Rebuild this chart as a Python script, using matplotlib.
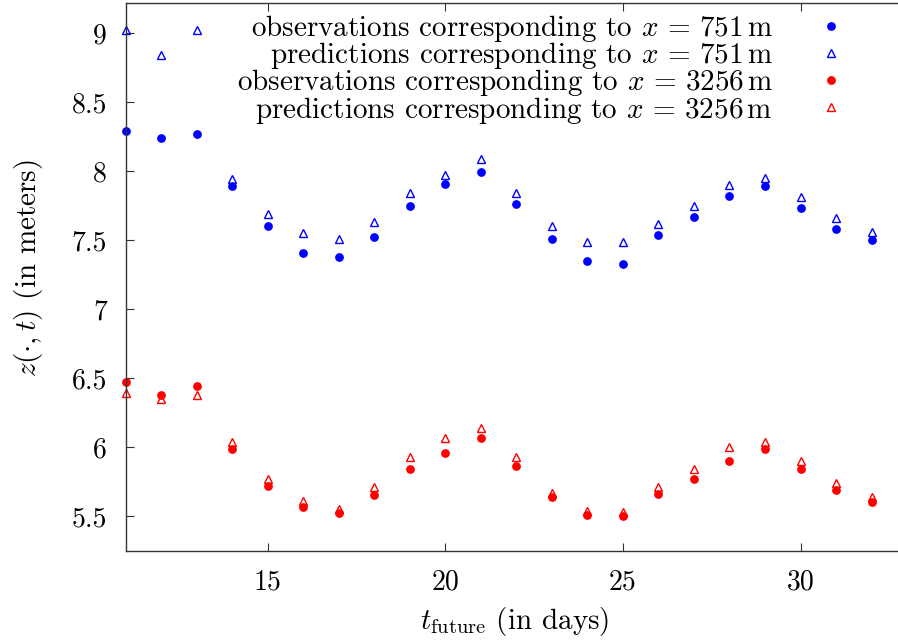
import numpy as np
import matplotlib
matplotlib.use("Agg")
import matplotlib.pyplot as plt
from matplotlib.ticker import FuncFormatter

plt.rcParams["font.family"] = "cmr10"
plt.rcParams["mathtext.fontset"] = "cm"
plt.rcParams["axes.formatter.use_mathtext"] = True

#%% data
days = np.arange(11, 33)

obs_751 = [8.29, 8.24, 8.27, 7.89, 7.60, 7.41, 7.38, 7.52, 7.75, 7.91, 7.99,
           7.76, 7.51, 7.35, 7.33, 7.54, 7.67, 7.82, 7.89, 7.73, 7.58, 7.50]
pred_751 = [9.02, 8.84, 9.02, 7.94, 7.69, 7.55, 7.51, 7.63, 7.84, 7.97, 8.09,
            7.84, 7.60, 7.49, 7.49, 7.62, 7.75, 7.90, 7.95, 7.81, 7.66, 7.56]
obs_3256 = [6.47, 6.38, 6.44, 5.99, 5.72, 5.57, 5.52, 5.65, 5.84, 5.96, 6.07,
            5.86, 5.64, 5.51, 5.50, 5.66, 5.77, 5.90, 5.99, 5.84, 5.69, 5.60]
pred_3256 = [6.39, 6.35, 6.38, 6.04, 5.77, 5.61, 5.55, 5.71, 5.93, 6.07, 6.14,
             5.93, 5.67, 5.54, 5.53, 5.71, 5.84, 6.00, 6.04, 5.90, 5.74, 5.64]

labels = [r"observations corresponding to $x\,=\,751\,\mathrm{m}$",
          r"predictions corresponding to $x\,=\,751\,\mathrm{m}$",
          r"observations corresponding to $x\,=\,3256\,\mathrm{m}$",
          r"predictions corresponding to $x\,=\,3256\,\mathrm{m}$"]

#%%
W, H = 898, 643
fig = plt.figure(figsize=(W / 100, H / 100), dpi=100)
# the plot box runs a little past the right edge of the picture
ax = fig.add_axes([125.7 / W, (H - 550.7) / H, (903.5 - 125.7) / W, (550.7 - 2.7) / H])

fs = 20      # tick labels
fs_txt = 21  # axis labels and key
ms_dot = 6.3
ms_tri = 6.0
ax.plot(days, obs_751, "o", color="#0000ff", ms=ms_dot, mec="none", clip_on=False, label=labels[0])
ax.plot(days, pred_751, "^", color="#0000ff", ms=ms_tri, mfc="none", mew=1.0, clip_on=False, label=labels[1])
ax.plot(days, obs_3256, "o", color="#ff0000", ms=ms_dot, mec="none", clip_on=False, label=labels[2])
ax.plot(days, pred_3256, "^", color="#ff0000", ms=ms_tri, mfc="none", mew=1.0, clip_on=False, label=labels[3])

ax.set_xlim(11, 32.9)
ax.set_ylim(5.25, 9.22)
ax.set_xticks([15, 20, 25, 30])
ax.set_yticks([5.5, 6, 6.5, 7, 7.5, 8, 8.5, 9])
ax.yaxis.set_major_formatter(FuncFormatter(lambda v, p: "%g" % v))
ax.xaxis.set_major_formatter(FuncFormatter(lambda v, p: "%g" % v))

for s in ax.spines.values():
    s.set_color("#333333")
    s.set_linewidth(1.0)
ax.tick_params(direction="in", length=5.5, width=0.8, color="#333333",
               top=True, right=False, labelsize=fs)
ax.tick_params(axis="y", pad=13.5)
ax.tick_params(axis="x", pad=13.0)

ax.set_xlabel(r"$t_{\mathrm{future}}$ (in days)", fontsize=fs_txt)
ax.xaxis.set_label_coords(0.5, -0.100)
ax.set_ylabel(r"$z(\cdot,t)$ (in meters)", fontsize=fs_txt)
ax.yaxis.set_label_coords(-0.104, 0.516)

leg = ax.legend(loc="upper right", bbox_to_anchor=(846 / W, 1 - 13 / H),
                bbox_transform=fig.transFigure, frameon=False, markerfirst=False,
                fontsize=fs_txt, handlelength=1.0, handletextpad=1.5,
                labelspacing=-0.13, borderpad=0, borderaxespad=0)
for t in leg.get_texts():
    t.set_ha("right")
leg._legend_box.align = "right"

fig.savefig("out.png", dpi=100)
